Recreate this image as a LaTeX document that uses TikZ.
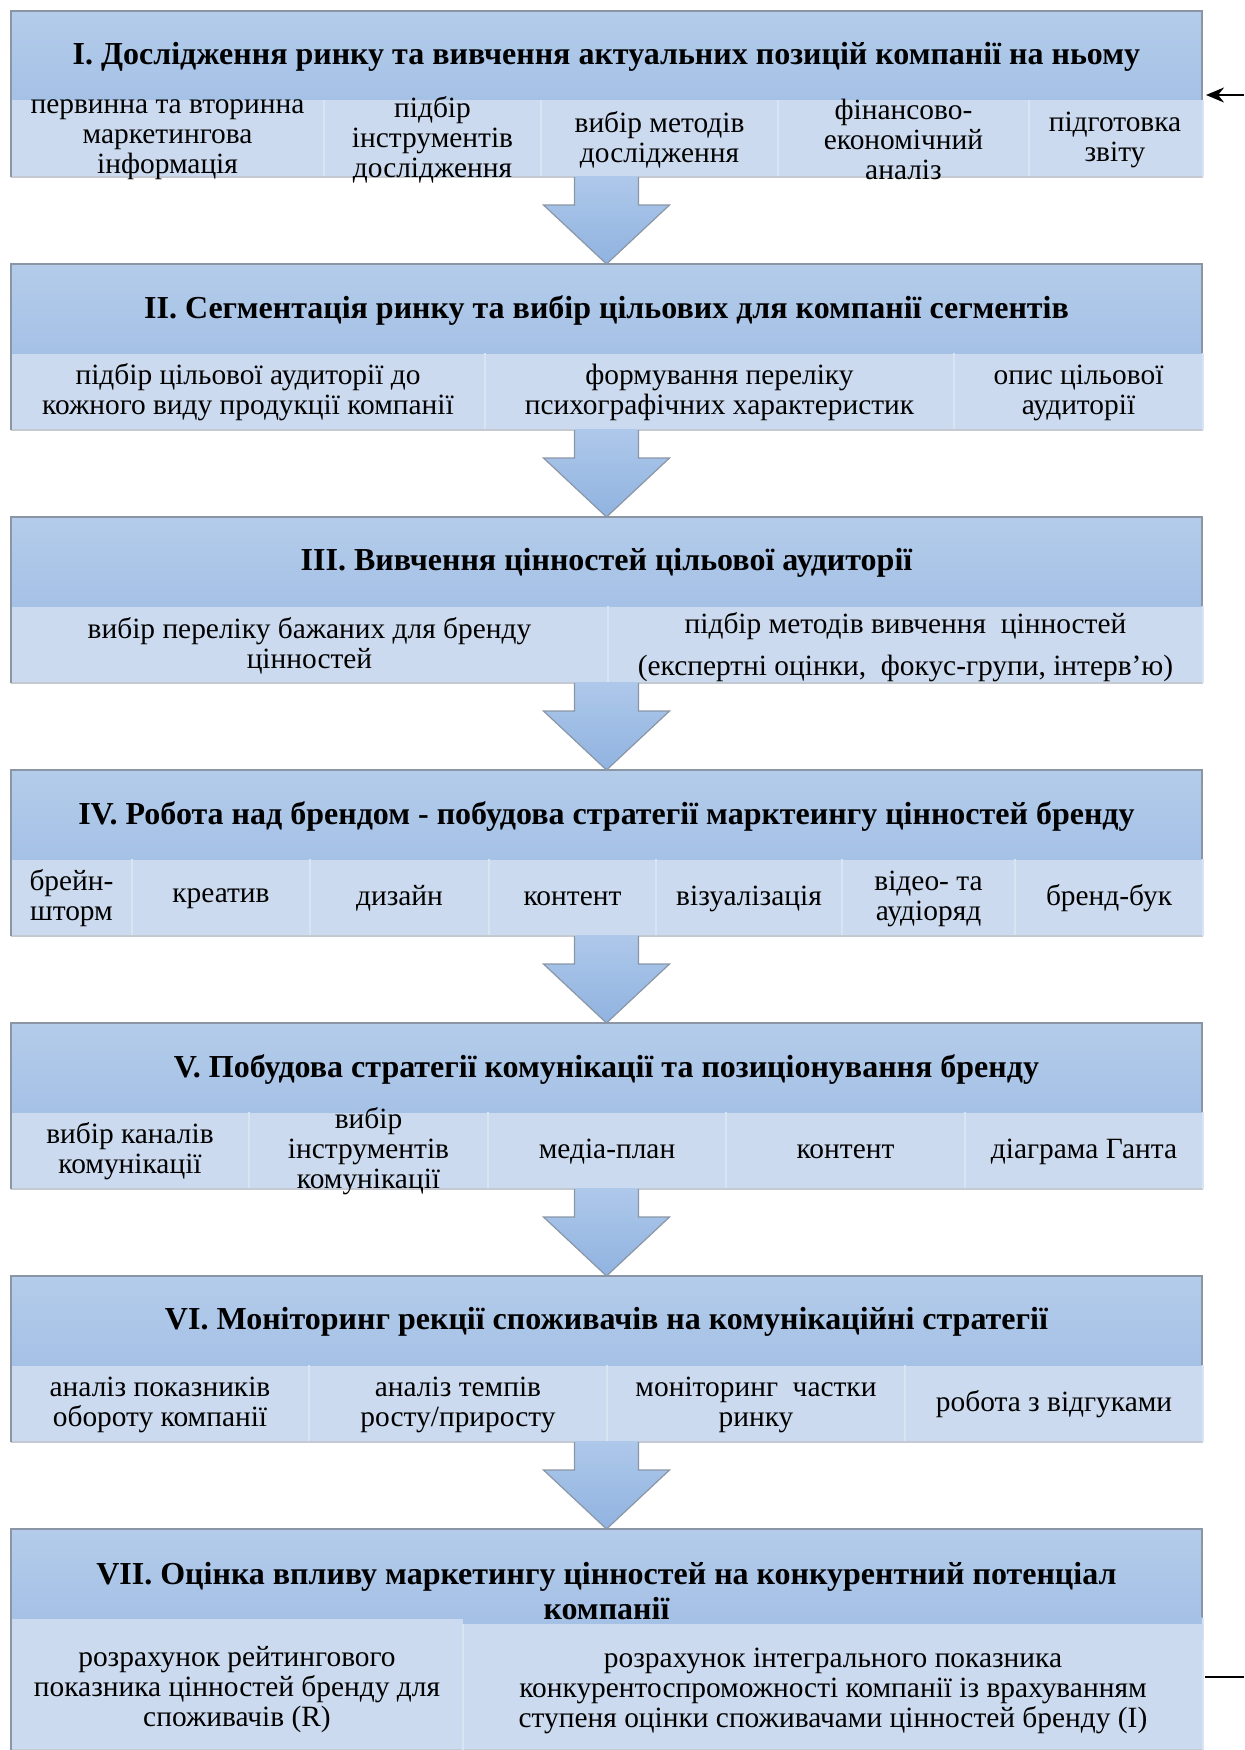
\documentclass[tikz,border=0pt]{standalone}
\usepackage{fontspec}
\setmainfont{Liberation Serif}
\usetikzlibrary{arrows.meta,calc}
\definecolor{hdrtop}{HTML}{B4CCEA}
\definecolor{hdrbot}{HTML}{A5C1E6}
\definecolor{subc}{HTML}{CBDAEE}
\definecolor{sepc}{HTML}{D9E4F3}
\definecolor{edgec}{HTML}{8A96A5}
\definecolor{arrtop}{HTML}{AEC8EA}
\definecolor{arrbot}{HTML}{90B3E0}
\tikzset{
  hdrtxt/.style={inner sep=0pt,align=center,font=\rmfamily\fontsize{16}{16.5}\selectfont\bfseries},
  subtxt/.style={inner sep=0pt,align=center,font=\rmfamily\fontsize{14.7}{15}\selectfont},
  sepline/.style={draw=sepc,line width=0.8pt},
  edgeline/.style={draw=edgec,line width=0.6pt},
  blockarrow/.style={top color=arrtop,bottom color=arrbot},
  fbline/.style={line width=1pt,black}
}
\begin{document}
\begin{tikzpicture}[x=0.5pt,y=-0.5pt]
\useasboundingbox (0,0) rectangle (1244,1750);
% blocks
\foreach \k in {0,...,6}{
  \pgfmathsetmacro\t{11+253*\k}
  \pgfmathsetmacro\hb{\t+89}
  \pgfmathsetmacro\sb{ifthenelse(\k==6,1750,\t+166)}
  \fill[subc] (11,\hb) rectangle (1203,\sb);
  \draw[edgec!50,line width=0.6pt] (11,\sb) -- (1203,\sb);
  \draw[sepc,line width=0.8pt] (1203,\hb) -- (1203,\sb);
  \shade[top color=hdrtop,bottom color=hdrbot] (11,\t) rectangle (1202,\hb);
  \draw[edgeline] (11,\sb) -- (11,\t) -- (1202,\t) -- (1202,\hb);
}
% block arrows
\foreach \k in {0,...,5}{
  \pgfmathsetmacro\s{11+253*\k+166}
  \pgfmathsetmacro\m{\s+28}
  \pgfmathsetmacro\e{11+253*(\k+1)}
  \shade[blockarrow] (574.5,\s-1) -- (574.5,\m) -- (543.5,\m) -- (606.5,\e) -- (669.5,\m) -- (638.5,\m) -- (638.5,\s-1) -- cycle;
  \draw[edgeline] (574.5,\s) -- (574.5,\m) -- (543.5,\m) -- (606.5,\e) -- (669.5,\m) -- (638.5,\m) -- (638.5,\s);
}
% block VII right cell step
\fill[hdrbot] (463,1617) rectangle (1202,1624);
\fill[subc] (463,1624) rectangle (1203,1640);

% separators
\foreach \x/\y in {324/100,541/100,778/100,1029/100,
                   485/353,954/353,
                   608/606,
                   132/859,310/859,489/859,656/859,842/859,1015/859,
                   249/1112,488/1112,726/1112,965/1112,
                   309/1365,607/1365,905/1365}{
  \draw[sepline] (\x,\y) -- (\x,\y+76);
}
\draw[sepline] (463,1624) -- (463,1750);

% headers
\node[hdrtxt] (h1) at (606.5,57) {I. Дослідження ринку та вивчення актуальних позицій компанії на ньому};
\node[hdrtxt] (h2) at (606.5,310) {II. Сегментація ринку та вибір цільових для компанії сегментів};
\node[hdrtxt] (h3) at (606.5,563) {III. Вивчення цінностей цільової аудиторії};
\node[hdrtxt] (h4) at (606.5,816) {IV. Робота над брендом - побудова стратегії марктеингу цінностей бренду};
\node[hdrtxt] (h5) at (606.5,1069) {V. Побудова стратегії комунікації та позиціонування бренду};
\node[hdrtxt] (h6) at (606.5,1322) {VI. Моніторинг рекції споживачів на комунікаційні стратегії};
\node[hdrtxt] (h7a) at (606.5,1577) {VII. Оцінка впливу маркетингу цінностей на конкурентний потенціал};
\node[hdrtxt] (h7b) at (606.5,1609) {компанії};

% block I
\node[subtxt] (c11) at (167.5,139.5) {первинна та вторинна\\маркетингова\\інформація};
\node[subtxt] (c12) at (432.5,139.5) {підбір\\інструментів\\дослідження};
\node[subtxt] (c13) at (659.5,139.5) {вибір методів\\дослідження};
\node[subtxt] (c14) at (903.5,139.5) {фінансово-\\економічний\\аналіз};
\node[subtxt] (c15) at (1115,139.5) {підготовка\\звіту};
% block II
\node[subtxt] (c21) at (248,392.5) {підбір цільової аудиторії до\\кожного виду продукції компанії};
\node[subtxt] (c22) at (719.5,392.5) {формування переліку\\психографічних характеристик};
\node[subtxt] (c23) at (1078.5,392.5) {опис цільової\\аудиторії};
% block III
\node[subtxt] (c31) at (309.5,645.5) {вибір переліку бажаних для бренду\\цінностей};
\node[subtxt] (c32a) at (905.5,626) {підбір методів вивчення\ \ цінностей};
\node[subtxt] (c32b) at (905.5,668) {(експертні оцінки,\ \ фокус-групи, інтерв’ю)};
% block IV
\node[subtxt] (c41) at (71.5,898.5) {брейн-\\шторм};
\node[subtxt] (c42) at (221,898.5) {креатив};
\node[subtxt] (c43) at (399.5,898.5) {дизайн};
\node[subtxt] (c44) at (572.5,898.5) {контент};
\node[subtxt] (c45) at (749,898.5) {візуалізація};
\node[subtxt] (c46) at (928.5,898.5) {відео- та\\аудіоряд};
\node[subtxt] (c47) at (1109,898.5) {бренд-бук};
% block V
\node[subtxt] (c51) at (130,1151.5) {вибір каналів\\комунікації};
\node[subtxt] (c52) at (368.5,1151.5) {вибір\\інструментів\\комунікації};
\node[subtxt] (c53) at (607,1151.5) {медіа-план};
\node[subtxt] (c54) at (845.5,1151.5) {контент};
\node[subtxt] (c55) at (1084,1151.5) {діаграма Ганта};
% block VI
\node[subtxt] (c61) at (160,1404.5) {аналіз показників\\обороту компанії};
\node[subtxt] (c62) at (458,1404.5) {аналіз темпів\\росту/приросту};
\node[subtxt] (c63) at (756,1404.5) {моніторинг\ \ частки\\ринку};
\node[subtxt] (c64) at (1054,1404.5) {робота з відгуками};
% block VII
\node[subtxt] (c71) at (237,1689.5) {розрахунок рейтингового\\показника цінностей бренду для\\споживачів (R)};
\node[subtxt] (c72) at (833,1691) {розрахунок інтегрального показника\\конкурентоспроможності компанії із врахуванням\\ступеня оцінки споживачами цінностей бренду (I)};

% feedback arrow fragments
\coordinate (fbin) at (1244,95);
\coordinate (fbend) at (1206,95);
\coordinate (fbout) at (1244,1677);
\coordinate (fbstart) at (1205,1677);
\draw[fbline,-{Stealth[length=9pt,width=7.5pt]}] (fbin) -- (fbend);
\draw[fbline] (fbout) -- (fbstart);
\end{tikzpicture}
\end{document}
